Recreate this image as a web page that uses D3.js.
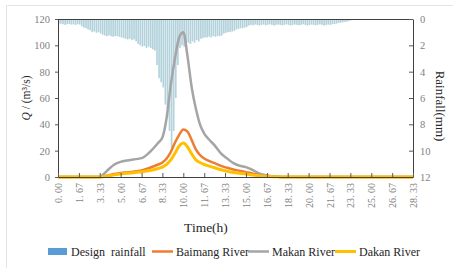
<!DOCTYPE html>
<html>
<head>
<meta charset="utf-8">
<script src="https://cdn.jsdelivr.net/npm/d3@7"></script>
<style>
  body { margin: 0; background: #fff; }
  svg { display: block; }
</style>
</head>
<body>
<svg id="chart" width="453" height="268"></svg>
<script>
// design rainfall, mm per 10-min step, starting at 0 h
const rainfall = [
  0.40, 0.35, 0.40, 0.45, 0.40, 0.38, 0.42, 0.40, 0.45, 0.40, 0.42,
  0.55, 0.65, 0.70, 0.80, 0.85, 1.00, 0.95, 1.05, 1.00, 1.10,
  1.20, 1.25, 1.30, 1.25, 1.30, 1.35, 1.30, 1.30, 1.35, 1.40,
  1.45, 1.50, 1.55, 1.50, 1.60, 1.55, 1.70, 1.90, 2.00, 2.10,
  2.05, 2.20, 2.10, 2.20, 2.30, 2.40, 3.50, 4.50, 4.80, 5.20,
  6.50, 7.50, 8.50, 9.80, 8.50, 6.00, 3.50, 2.20, 2.00, 2.10,
  1.90, 1.80, 1.90, 1.70, 1.80, 1.60, 1.70, 1.50, 1.45, 1.40,
  1.40, 1.35, 1.40, 1.30, 1.35, 1.30, 1.30, 1.25, 1.10, 1.05,
  1.00, 1.00, 0.95, 0.90, 0.80, 0.75, 0.70, 0.70, 0.65, 0.60,
  0.50, 0.45, 0.48, 0.42, 0.45, 0.50, 0.45, 0.42, 0.48, 0.45,
  0.40, 0.45, 0.50, 0.45, 0.42, 0.45, 0.48, 0.45, 0.40, 0.45,
  0.50, 0.45, 0.42, 0.45, 0.48, 0.45, 0.40, 0.45, 0.50, 0.45,
  0.42, 0.45, 0.48, 0.45, 0.40, 0.45, 0.50, 0.45, 0.42, 0.45,
  0.40, 0.38, 0.35, 0.30, 0.28, 0.25, 0.22, 0.20, 0.15, 0.10
];

// flow hydrographs (m3/s)
const flowTime = [0, 1, 2, 3, 3.33, 3.67, 4, 4.5, 5, 5.5, 6, 6.67, 7.33, 8,
  8.33, 8.67, 9, 9.33, 9.67, 10, 10.33, 10.67, 11, 11.33, 11.67, 12,
  12.5, 13, 13.5, 14, 14.5, 15, 15.5, 16, 16.5, 17, 17.5, 18,
  20, 22, 24, 26, 28.33];
const baimang = [0, 0, 0, 0, 0, 0.5, 1.2, 2.2, 3, 3.5, 4, 5, 7, 9.5,
  11, 14, 19, 26, 32, 36, 34.5, 28, 21, 16.7, 14, 12.5,
  10.5, 8.5, 7, 5.7, 4.7, 3.7, 2.7, 1.8, 1.2, 0.6, 0.2, 0,
  0, 0, 0, 0, 0];
const makan = [0, 0, 0, 0, 0, 2.5, 5.5, 9.5, 11.5, 12.5, 13.3, 14.3, 19, 26,
  30, 45, 70, 90, 106, 110, 92, 68, 52, 40, 33, 29,
  24, 18, 14, 10.5, 8.5, 7.5, 5.5, 3, 1.5, 0.6, 0.2, 0,
  0, 0, 0, 0, 0];
const dakan = [0, 0, 0, 0, 0, 0.3, 0.8, 1.6, 2.3, 2.8, 3.2, 4, 5, 6.5,
  7.5, 9.5, 13, 18, 23.5, 25.8, 23, 17.5, 13, 11, 9.5, 8.5,
  7, 5.5, 4.3, 3.4, 2.8, 2.2, 1.5, 1, 0.6, 0.3, 0.1, 0,
  0, 0, 0, 0, 0];

const xTickValues = [0, 1.67, 3.33, 5, 6.67, 8.33, 10, 11.67, 13.33, 15,
  16.67, 18.33, 20, 21.67, 23.33, 25, 26.67, 28.33];
const xTickLabels = ["0. 00", "1. 67", "3. 33", "5. 00", "6. 67", "8. 33",
  "10. 00", "11. 67", "13. 33", "15. 00", "16. 67", "18. 33", "20. 00",
  "21. 67", "23. 33", "25. 00", "26. 67", "28. 33"];
const flowTicks = [0, 20, 40, 60, 80, 100, 120];
const rainTicks = [0, 2, 4, 6, 8, 10, 12];

const seriesNames = ["Baimang River", "Makan River", "Dakan River"];
const seriesColors = ["#ed7d31", "#a5a5a5", "#ffc000"];
const font = '"Liberation Serif", "DejaVu Serif", serif';

const svg = d3.select("#chart");
const margin = { left: 58, right: 40, top: 19, bottom: 91 };
const width = 453 - margin.left - margin.right;
const height = 268 - margin.top - margin.bottom;

// faint outer frame
svg.append("rect")
  .attr("x", 6.5).attr("y", 5.5)
  .attr("width", 470).attr("height", 280)
  .attr("fill", "#fff")
  .attr("stroke", "#e4e4e4");

const g = svg.append("g").attr("transform", `translate(${margin.left},${margin.top})`);

const x = d3.scaleLinear().domain([0, 28.33]).range([0, width]);
const y = d3.scaleLinear().domain([0, 120]).range([height, 0]);
const yRain = d3.scaleLinear().domain([0, 12]).range([0, height]);

// rainfall bars hanging from the top
const barW = (x(1 / 6) - x(0)) * 0.8;
g.append("g")
  .selectAll("rect")
  .data(rainfall)
  .enter()
  .append("rect")
  .attr("x", (d, i) => x(i / 6))
  .attr("y", 0)
  .attr("width", barW)
  .attr("height", d => yRain(d))
  .attr("fill", "#b3d2dc");

// hydrographs
const line = vals => d3.line()
  .x((d, i) => x(flowTime[i]))
  .y(d => y(d))
  .curve(d3.curveMonotoneX)(vals);

[baimang, makan, dakan].forEach((vals, k) => {
  g.append("path")
    .attr("d", line(vals))
    .attr("fill", "none")
    .attr("stroke", seriesColors[k])
    .attr("stroke-width", k === 2 ? 3 : 2.5)
    .attr("stroke-linejoin", "round");
});

// frame top line
g.append("line")
  .attr("x1", 0).attr("x2", width)
  .attr("y1", 0.5).attr("y2", 0.5)
  .attr("stroke", "#404040");

const styleAxis = sel => {
  sel.select(".domain").attr("stroke", "#404040");
  sel.selectAll(".tick line").attr("stroke", "#595959");
  sel.selectAll("text")
    .attr("fill", "#7f7f7f")
    .attr("font-family", font);
};

g.append("g")
  .call(d3.axisLeft(y).tickValues(flowTicks).tickSize(3).tickSizeOuter(0).tickPadding(5))
  .call(styleAxis)
  .selectAll("text").attr("font-size", "10.5px");

g.append("g")
  .attr("transform", `translate(${width},0)`)
  .call(d3.axisRight(yRain).tickValues(rainTicks).tickSize(-4).tickSizeOuter(0).tickPadding(7))
  .call(styleAxis)
  .selectAll("text").attr("font-size", "10.5px");

const xAxis = g.append("g")
  .attr("transform", `translate(0,${height})`)
  .call(d3.axisBottom(x).tickValues(xTickValues)
    .tickFormat((d, i) => xTickLabels[i]).tickSize(-4).tickSizeOuter(0))
  .call(styleAxis);

xAxis.selectAll("text")
  .attr("font-size", "10px")
  .attr("transform", "rotate(-90)")
  .attr("text-anchor", "end")
  .attr("x", -6)
  .attr("y", 0)
  .attr("dy", "0.35em");

// axis titles
const yTitle = svg.append("text")
  .attr("transform", `translate(30,${margin.top + height / 2}) rotate(-90)`)
  .attr("text-anchor", "middle")
  .attr("font-family", font)
  .attr("font-size", "11.5px")
  .attr("fill", "#262626");
yTitle.append("tspan").attr("font-style", "italic").text("Q");
yTitle.append("tspan").text(" / (m³/s)");

svg.append("text")
  .attr("transform", `translate(436,${margin.top + height / 2 + 8}) rotate(90)`)
  .attr("text-anchor", "middle")
  .attr("font-family", font)
  .attr("font-size", "13px")
  .attr("fill", "#262626")
  .text("Rainfall(mm)");

svg.append("text")
  .attr("x", 206).attr("y", 232)
  .attr("text-anchor", "middle")
  .attr("font-family", font)
  .attr("font-size", "13.5px")
  .attr("fill", "#262626")
  .text("Time(h)");

// legend
const legend = svg.append("g")
  .attr("font-family", font)
  .attr("font-size", "12px")
  .attr("fill", "#262626");

legend.append("rect")
  .attr("x", 48).attr("y", 248)
  .attr("width", 19).attr("height", 7)
  .attr("fill", "#5b9bd5");
legend.append("text")
  .attr("x", 71).attr("y", 255.5)
  .attr("xml:space", "preserve")
  .text("Design  rainfall");

const legendX = [152, 248, 335];
seriesNames.forEach((name, k) => {
  legend.append("line")
    .attr("x1", legendX[k]).attr("x2", legendX[k] + 21)
    .attr("y1", 251.5).attr("y2", 251.5)
    .attr("stroke", seriesColors[k])
    .attr("stroke-width", k === 2 ? 3 : 2.5);
  legend.append("text")
    .attr("x", legendX[k] + 24).attr("y", 255.5)
    .text(name);
});
</script>
</body>
</html>
